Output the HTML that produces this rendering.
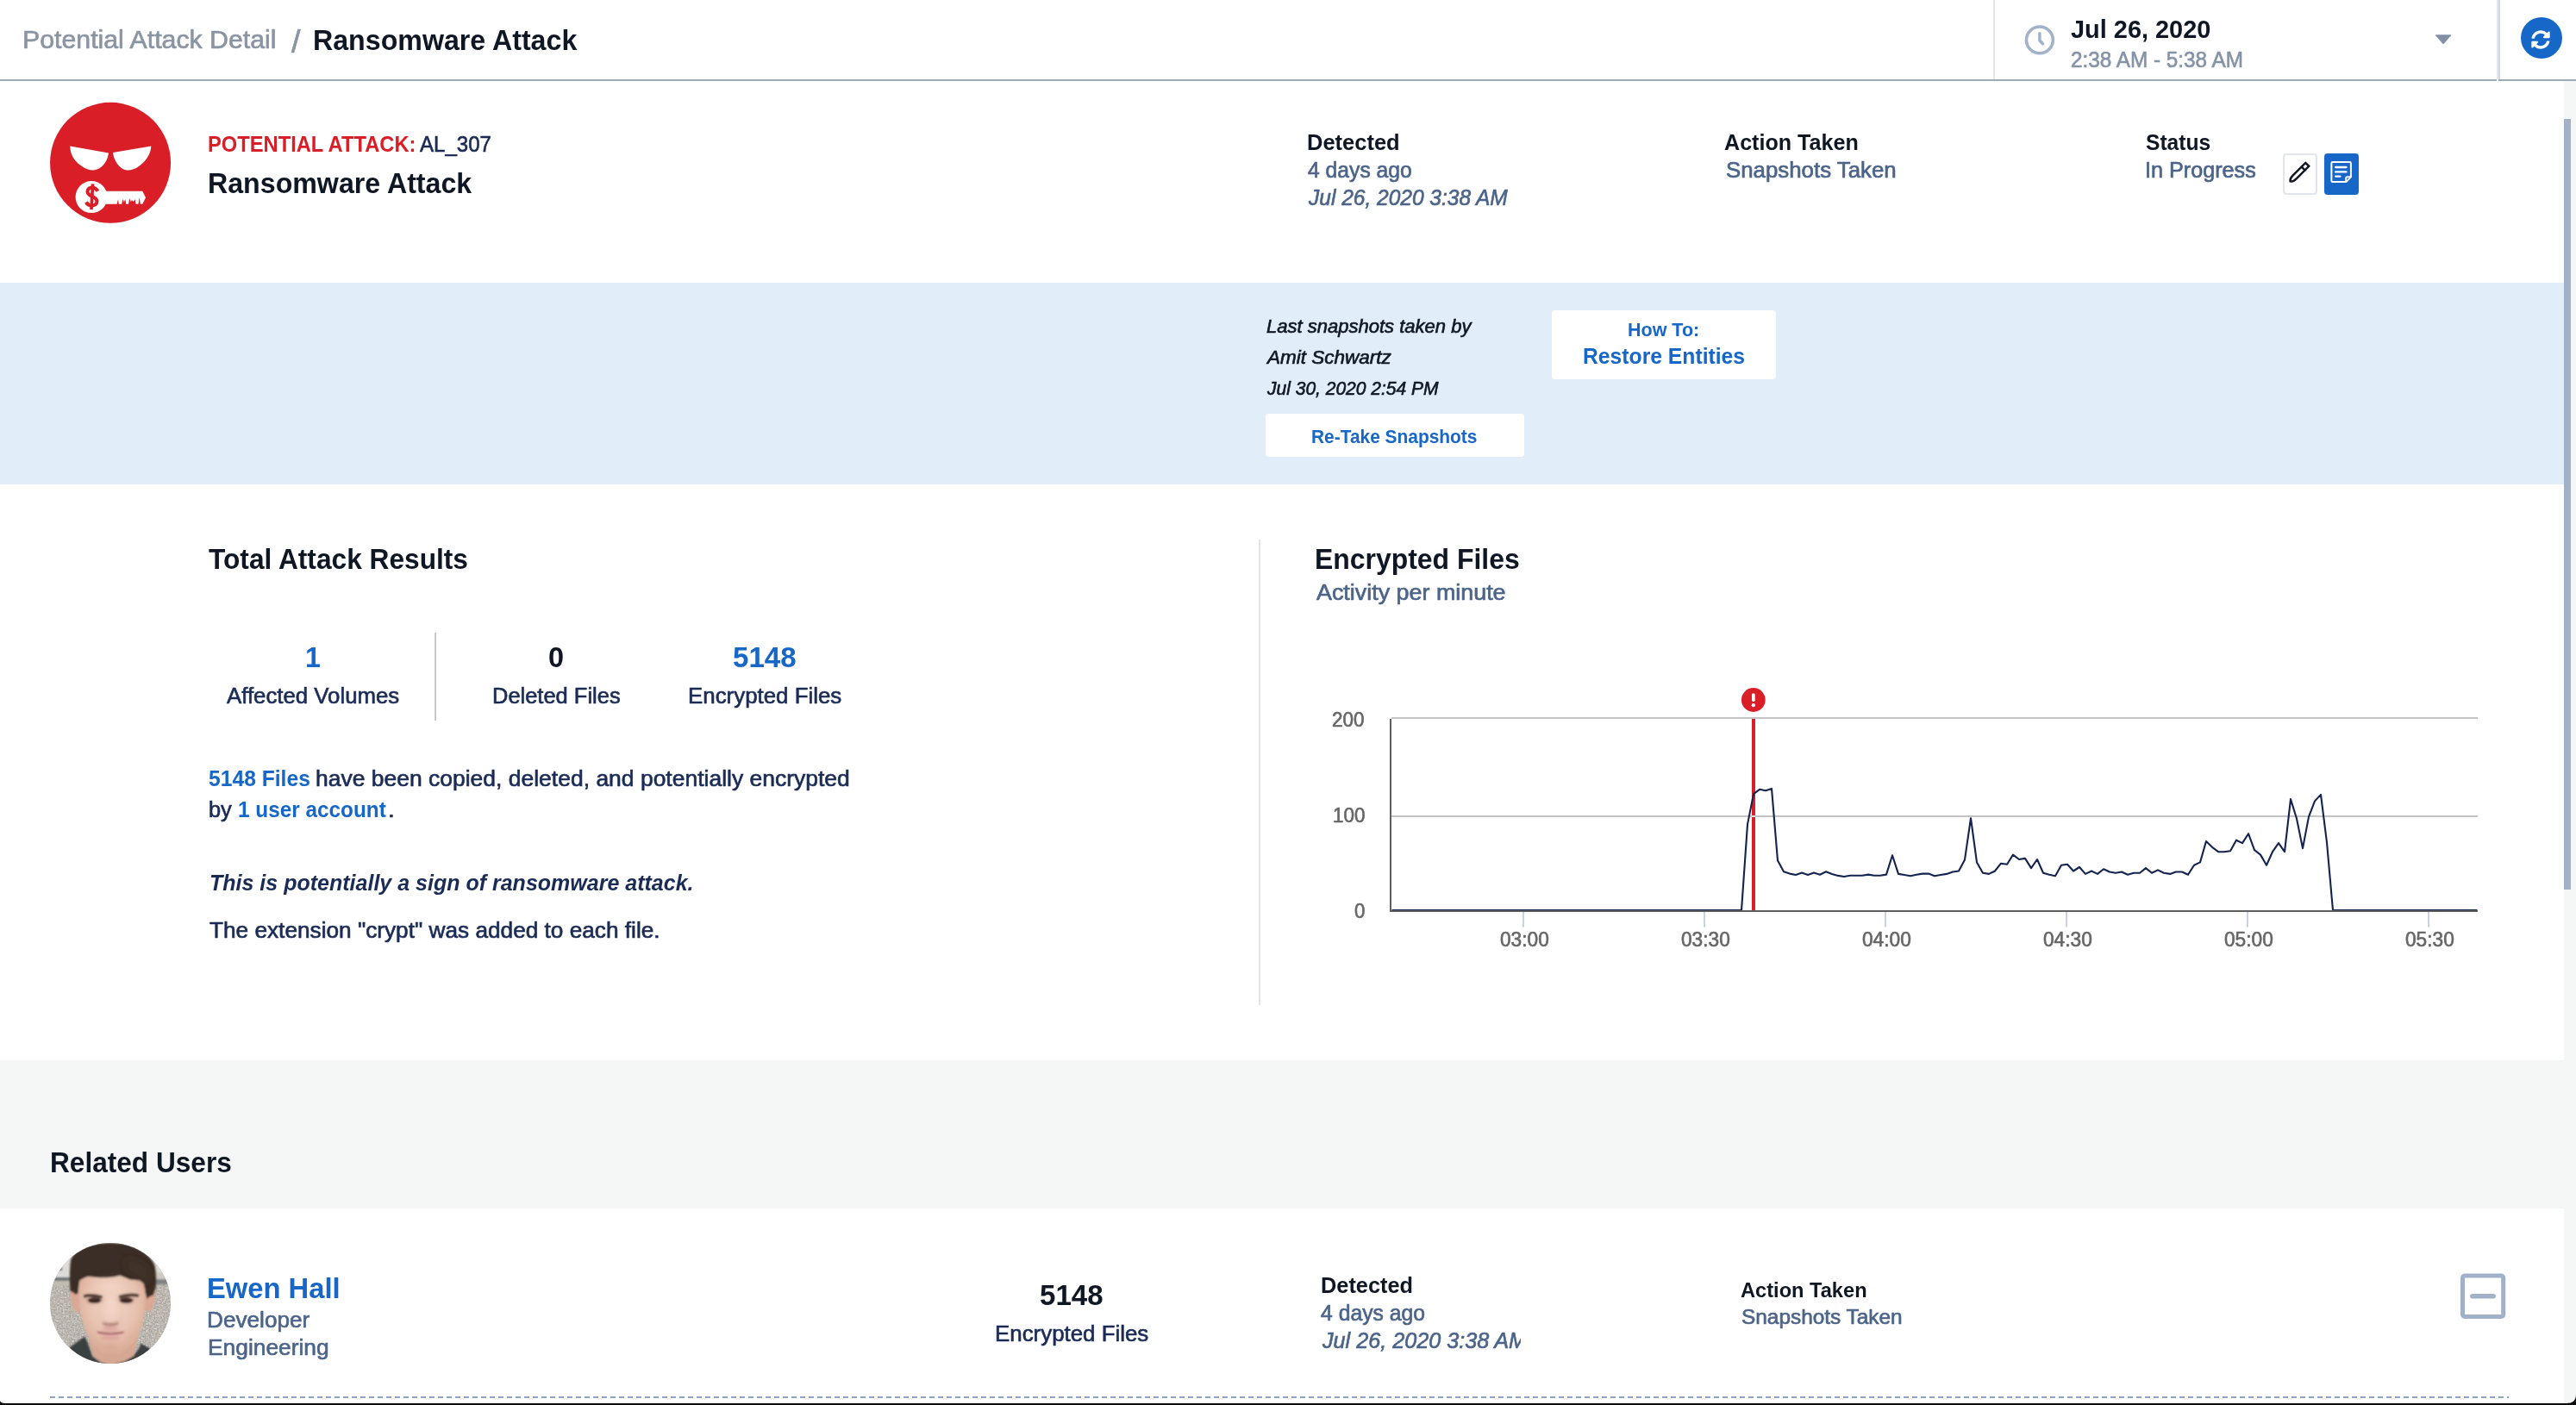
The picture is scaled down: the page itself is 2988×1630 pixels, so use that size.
<!DOCTYPE html>
<html lang="en">
<head>
<meta charset="utf-8">
<title>Potential Attack Detail / Ransomware Attack</title>
<style>
html,body{margin:0;padding:0;}
body{width:2988px;height:1630px;overflow:hidden;background:#ffffff;position:relative;font-family:"Liberation Sans",sans-serif;}
.abs{position:absolute;}
.t{position:absolute;height:100px;line-height:0;white-space:nowrap;transform-origin:0 0;font-family:"Liberation Sans",sans-serif;}
.t i{display:inline-block;width:0;height:100px;}
svg{position:absolute;overflow:visible;}
</style>
</head>
<body>

<!-- ===== top bar ===== -->
<div class="abs" style="left:0;top:92px;width:2988px;height:2px;background:#9fa9b7"></div>
<div class="abs" style="left:2312px;top:0;width:2px;height:92px;background:#e4e6eb"></div>
<div class="abs" style="left:2896px;top:0;width:2px;height:92px;background:#e5e6eb"></div>
<div class="abs" style="left:2898px;top:0;width:2px;height:92px;background:#d1d9e3"></div>
<div class="abs" style="left:2896px;top:92px;width:2px;height:2px;background:#f1f2f5"></div>

<!-- clock icon -->
<svg style="left:2340px;top:20px" width="52" height="52" viewBox="0 0 52 52">
  <circle cx="25.9" cy="26.4" r="15.4" fill="none" stroke="#a1b2ca" stroke-width="3.6"/>
  <path d="M25.9 18.7 V27 L29.5 30.8" fill="none" stroke="#a1b2ca" stroke-width="3.5" stroke-linecap="round" stroke-linejoin="round"/>
</svg>
<!-- dropdown caret -->
<svg style="left:2820px;top:36px" width="30" height="20" viewBox="0 0 30 20">
  <path d="M5.6 4.3 H22.6 Q23.7 4.3 23 5.2 L15 14.6 Q14.1 15.6 13.2 14.6 L5.2 5.2 Q4.5 4.3 5.6 4.3 Z" fill="#838fa4"/>
</svg>
<!-- refresh button -->
<div class="abs" style="left:2924px;top:20px;width:48px;height:48px;border-radius:50%;background:#1767c8"></div>
<svg style="left:2936px;top:34.5px" width="22" height="22" viewBox="0 0 512 512">
  <path fill="#ffffff" d="M370.72 133.28C339.458 104.008 298.888 87.962 255.848 88c-77.458.068-144.328 53.178-162.791 126.85-1.344 5.363-6.122 9.15-11.651 9.15H24.103c-7.498 0-13.194-6.807-11.807-14.176C33.933 94.924 134.813 8 256 8c66.448 0 126.791 26.136 171.315 68.685L463.03 40.97C478.149 25.851 504 36.559 504 57.941V192c0 13.255-10.745 24-24 24H345.941c-21.382 0-32.09-25.851-16.971-40.971l41.75-41.749zM32 296h134.059c21.382 0 32.09 25.851 16.971 40.971l-41.75 41.75c31.262 29.273 71.835 45.319 114.876 45.28 77.418-.07 144.315-53.144 162.787-126.849 1.344-5.363 6.122-9.15 11.651-9.15h57.304c7.498 0 13.194 6.807 11.807 14.176C478.067 417.076 377.187 504 256 504c-66.448 0-126.791-26.136-171.315-68.685L48.97 471.03C33.851 486.149 8 475.441 8 454.059V320c0-13.255 10.745-24 24-24z"/>
</svg>

<!-- ===== attack header ===== -->
<svg style="left:48px;top:108px" width="160" height="160" viewBox="48 108 160 160">
  <circle cx="128.05" cy="188.85" r="70" fill="#da1e28"/>
  <path fill="#ffffff" d="M81.3 169.5 L126 177.5 C125.2 182 124 185.3 123.2 186.6 C121 190.6 118.6 193.3 116.3 194.6 C113.8 196.4 111.2 197.4 108.4 197.4 C104 197.4 99.8 196 95.8 193.4 C92 190.9 89 188.3 86.7 185.4 C84.6 182.6 83 179.6 82.2 176.3 C81.6 174 81.3 171.8 81.3 169.5 Z"/>
  <path fill="#ffffff" d="M175.3 169.5 L130.9 176.9 C131.5 180.3 132.3 183.1 133.4 185.4 C134.9 188.6 136.8 191.3 139.1 193.4 C141.8 196 144.8 197.4 148.2 197.4 C152.2 197.4 156 196.2 159.6 194 C163.8 191.4 167.2 188.1 169.9 184.3 C172 181.3 173.5 178.3 174.4 175.2 C175 173.3 175.3 171.4 175.3 169.5 Z"/>
  <circle cx="106.1" cy="228.6" r="18.5" fill="#ffffff"/>
  <path fill="#ffffff" d="M118 221.7 H165.3 L169 229.3 L165.3 236.7 H162.8 L161.8 229 L160.4 236.7 H157.6 L156.6 231.2 L154.6 234 L153 232 L151.6 234.2 L150.2 230 L149 236.7 H146.2 L145.4 231 L143.8 234.6 L142.2 231 L141.2 236.7 H137.8 L137 231.2 L135.6 236.7 H118 Z"/>
  <g transform="rotate(3 106.5 228.4)">
    <path d="M113.1 221.4 C111 218.4 108.8 217.5 106.8 217.5 C103.4 217.5 101.2 219.6 101.2 222.3 C101.2 225.5 104 226.7 106.9 227.8 C110 229 112.7 230.3 112.7 233.6 C112.7 236.6 110.2 238.5 106.7 238.5 C104 238.5 101.8 237.4 100.2 235" fill="none" stroke="#da1e28" stroke-width="4.1"/>
    <rect x="104.9" y="213.3" width="3.7" height="29.8" fill="#da1e28"/>
  </g>
</svg>

<!-- status buttons -->
<div class="abs" style="left:2648px;top:178px;width:36px;height:44px;border:2px solid #e2e5ea;border-radius:4px;background:#fff"></div>
<div class="abs" style="left:2696px;top:178px;width:40px;height:48px;border-radius:4px;background:#1767c8"></div>
<svg style="left:2640px;top:170px" width="105" height="65" viewBox="2640 170 105 65">
  <g transform="translate(2655.7 211.4) rotate(-45)" fill="none" stroke="#0f1724" stroke-width="2.5" stroke-linejoin="round" stroke-linecap="round">
    <path d="M1.4 0 C2.2 -1.4 5.5 -2.75 8.5 -2.75 L29 -2.75 L29 2.75 L8.5 2.75 C5.5 2.75 2.2 1.4 1.4 0 Z" stroke-linejoin="miter"/>
    <path d="M22.6 -2.7 V2.7"/>
  </g>
  <g fill="none" stroke="#ffffff" stroke-width="2" stroke-linejoin="round" stroke-linecap="round">
    <path d="M2705.8 188.1 H2725.5 Q2726.9 188.1 2726.9 189.5 V205.4 L2721.3 211.1 H2705.8 Q2704.4 211.1 2704.4 209.7 V189.5 Q2704.4 188.1 2705.8 188.1 Z"/>
    <path d="M2726.9 205.3 H2722.8 Q2721.2 205.3 2721.2 206.9 V211"/>
  </g>
  <g stroke="#ffffff" stroke-width="2.4" stroke-linecap="round">
    <path d="M2709.2 194 H2721.4"/>
    <path d="M2709.2 199.4 H2721.4"/>
    <path d="M2709.2 204.6 H2714.4"/>
  </g>
</svg>

<!-- ===== blue banner ===== -->
<div class="abs" style="left:0;top:328px;width:2974px;height:234px;background:#e1edf9"></div>
<div class="abs" style="left:1468px;top:480px;width:300px;height:50px;border-radius:4px;background:#fff"></div>
<div class="abs" style="left:1800px;top:360px;width:260px;height:80px;border-radius:4px;background:#fff"></div>

<!-- ===== attack results / chart ===== -->
<div class="abs" style="left:504px;top:734px;width:2px;height:102px;background:#c8c8c8"></div>
<div class="abs" style="left:1460px;top:626px;width:2px;height:540px;background:#e3e4e9"></div>

<svg style="left:1500px;top:780px" width="1420" height="340" viewBox="1500 780 1420 340">
  <rect x="1614" y="832" width="1260" height="2" fill="#c4c4c4"/>
  <rect x="1614" y="946" width="1260" height="2" fill="#c4c4c4"/>
  <rect x="1612" y="834" width="2" height="224" fill="#5e5e5e"/>
  <rect x="1612" y="1056" width="1262" height="2" fill="#5e5e5e"/>
  <rect x="1766" y="1058" width="2" height="17.5" fill="#c7d2e8"/><rect x="1976" y="1058" width="2" height="17.5" fill="#c7d2e8"/><rect x="2186" y="1058" width="2" height="17.5" fill="#c7d2e8"/><rect x="2396" y="1058" width="2" height="17.5" fill="#c7d2e8"/><rect x="2606" y="1058" width="2" height="17.5" fill="#c7d2e8"/><rect x="2816" y="1058" width="2" height="17.5" fill="#c7d2e8"/>
  <rect x="2032" y="834" width="4" height="222" fill="#da1e28"/>
  <rect x="2032" y="946" width="4" height="2" fill="#d3e2e2"/>
  <clipPath id="plotclip"><rect x="1614" y="830" width="1260" height="226"/></clipPath>
  <path d="M1614.5 1056.0 L2020.0 1056.0 L2027.0 956.4 L2034.0 921.2 L2041.0 915.8 L2048.0 917.2 L2055.0 914.9 L2062.0 998.3 L2069.0 1011.2 L2076.0 1013.6 L2083.0 1015.0 L2090.0 1012.5 L2097.0 1015.0 L2104.0 1012.5 L2111.0 1014.8 L2118.0 1011.2 L2125.0 1013.9 L2132.0 1015.9 L2139.0 1017.0 L2146.0 1015.7 L2153.0 1015.7 L2160.0 1015.7 L2167.0 1014.6 L2174.0 1015.7 L2181.0 1015.7 L2188.0 1014.6 L2195.0 992.3 L2202.0 1013.9 L2209.0 1015.0 L2216.0 1016.2 L2223.0 1014.8 L2230.0 1013.6 L2237.0 1013.6 L2244.0 1016.2 L2251.0 1015.0 L2258.0 1013.9 L2265.0 1011.5 L2272.0 1010.5 L2279.0 997.4 L2286.0 949.2 L2293.0 1000.4 L2300.0 1012.8 L2307.0 1013.9 L2314.0 1010.5 L2321.0 1001.7 L2328.0 1002.8 L2335.0 991.6 L2342.0 997.0 L2349.0 995.9 L2356.0 1007.1 L2363.0 997.0 L2370.0 1012.8 L2377.0 1014.8 L2384.0 1016.2 L2391.0 1003.7 L2398.0 1002.8 L2405.0 1010.5 L2412.0 1006.0 L2419.0 1013.9 L2426.0 1010.5 L2433.0 1013.9 L2440.0 1008.2 L2447.0 1011.5 L2454.0 1012.8 L2461.0 1011.5 L2468.0 1014.8 L2475.0 1012.8 L2482.0 1012.8 L2489.0 1007.1 L2496.0 1012.8 L2503.0 1009.4 L2510.0 1012.8 L2517.0 1013.9 L2524.0 1011.5 L2531.0 1011.5 L2538.0 1014.8 L2545.0 1003.7 L2552.0 1000.4 L2559.0 976.0 L2566.0 982.8 L2573.0 988.2 L2580.0 988.2 L2587.0 987.2 L2594.0 974.7 L2601.0 978.1 L2608.0 967.2 L2615.0 986.2 L2622.0 991.6 L2629.0 1003.7 L2636.0 988.2 L2643.0 978.1 L2650.0 988.2 L2657.0 927.1 L2664.0 949.7 L2671.0 984.1 L2678.0 947.6 L2685.0 929.4 L2692.0 921.9 L2699.0 977.4 L2706.0 1056.0 L2873.5 1056.0" fill="none" stroke="#14244f" stroke-width="2.1" stroke-linejoin="round" clip-path="url(#plotclip)"/>
  <circle cx="2033.8" cy="812" r="13.9" fill="#da1e28"/>
  <rect x="2032" y="804.4" width="3.7" height="9.6" rx="1.4" fill="#fff"/>
  <circle cx="2033.85" cy="818.2" r="2.1" fill="#fff"/>
</svg>

<!-- ===== related users ===== -->
<div class="abs" style="left:0;top:1230px;width:2974px;height:172px;background:#f5f7f7"></div>

<svg style="left:48px;top:1432px" width="160" height="160" viewBox="0 0 160 160">
  <defs>
    <clipPath id="avc"><circle cx="80" cy="80" r="70"/></clipPath>
    <filter id="avb" x="-10%" y="-10%" width="120%" height="120%"><feGaussianBlur stdDeviation="1.1"/></filter>
    <filter id="avb2" x="-30%" y="-30%" width="160%" height="160%"><feGaussianBlur stdDeviation="2.2"/></filter>
    <filter id="avb3" x="-30%" y="-30%" width="160%" height="160%"><feGaussianBlur stdDeviation="4"/></filter>
    <filter id="avn" x="0" y="0" width="100%" height="100%"><feTurbulence type="fractalNoise" baseFrequency="0.55" numOctaves="2" seed="7" result="n"/><feColorMatrix in="n" type="matrix" values="0 0 0 0 0.35  0 0 0 0 0.33  0 0 0 0 0.30  0.7 0.7 0.7 0 -0.78"/></filter>
    <filter id="avn2" x="0" y="0" width="100%" height="100%"><feTurbulence type="fractalNoise" baseFrequency="0.55" numOctaves="2" seed="3" result="n"/><feColorMatrix in="n" type="matrix" values="0 0 0 0 0.95  0 0 0 0 0.94  0 0 0 0 0.92  0.7 0.7 0.7 0 -0.86"/></filter>
    <radialGradient id="avskin" cx="50%" cy="38%" r="62%">
      <stop offset="0" stop-color="#f1d3c4"/><stop offset="0.6" stop-color="#e7c2b0"/><stop offset="1" stop-color="#d7a892"/>
    </radialGradient>
  </defs>
  <g clip-path="url(#avc)">
    <rect x="0" y="0" width="160" height="160" fill="#b1aba2"/>
    <rect x="0" y="51" width="160" height="109" filter="url(#avn)"/>
    <rect x="0" y="51" width="160" height="109" filter="url(#avn2)"/>
    <rect x="0" y="0" width="160" height="51" fill="#dedcd8"/>
    <g filter="url(#avb)">
      <rect x="0" y="50" width="36" height="4" fill="#6f7476"/>
      <rect x="128" y="52" width="32" height="6" fill="#7f8385"/>
      <rect x="0" y="54" width="36" height="5" fill="#c2bdb3"/>
      <rect x="128" y="44" width="32" height="8" fill="#cfcbc4"/>
      <circle cx="22" cy="40" r="2" fill="#55585a"/>
    </g>
    <g filter="url(#avb)">
      <!-- shirt -->
      <path d="M14 160 L33 131 L50 118.5 L53.5 125.3 L59.2 141.2 L68.3 148 L80 152 L96.8 147 L107 141 L113.9 131 L115 126.4 L125.3 132 L146 160 Z" fill="#3b3f41"/>
      <!-- neck -->
      <path d="M55 120 L60 141 L68.3 148 L80 152 L96.8 147 L107 141 L112 120 Z" fill="#d6a792"/>
      <!-- ears -->
      <path d="M43.5 64 Q36 60 34 68 Q33.5 80 38 88 Q41 92 44.5 90 Z" fill="#dba893"/>
      <path d="M120.5 62 Q128 57 132 64 Q134 76 128 86 Q125 91 120 89 Z" fill="#dba893"/>
      <!-- face -->
      <path d="M43.3 60 L43.3 68 Q43.8 80 45.6 91 Q47 100 50 108 Q53 116 57 123 Q61 129 66 134.4 Q71 139 77.4 140.7 Q83 141.2 88.8 140 Q95 137.5 100 133 Q105 128.5 109.3 123 Q113 116 116 108 Q118.5 100 119.6 91 Q120.7 80 120.7 70 L120 48 L80 40 L44 48 Z" fill="url(#avskin)"/>
      <!-- hair -->
      <path d="M33.5 66 Q32 46 34 30 Q38 20 45 18 Q52 13 60 12 Q70 9.5 80 10 Q90 9.5 100 12 Q110 15 118 20 Q125 25 128 30 Q132 34 132.7 44 Q133.5 54 132.7 61.5 L130 70.6 L126 72 L122.4 75 Q121.5 70 120.7 68.3 Q120 62 118.5 57 Q116 54.5 113.9 53.5 Q108 53 102.5 52.4 Q97 50 91 47.8 Q85 49.5 79.7 50 Q72 50.5 63.8 50 Q58 49 53.5 49 Q48 51 44.4 53.5 Q43 60 42.7 68 L40 70 L36 67 Z" fill="#3b2d25"/>
      <path d="M98 30 Q112 30 122 42 Q124 50 121 56 Q114 46 102 42 Z" fill="#4a392d" opacity=".55" filter="url(#avb3)"/>
      <ellipse cx="61.5" cy="76" rx="11" ry="4.6" fill="#cfa390" opacity=".7" filter="url(#avb2)"/>
      <ellipse cx="98.5" cy="76" rx="11" ry="4.6" fill="#cfa390" opacity=".7" filter="url(#avb2)"/>
      <!-- brows -->
      <path d="M48.6 70.2 Q58 67.4 71 71.2 L70.4 74.6 Q58 71.6 49.4 73.8 Z" fill="#4e382d"/>
      <path d="M89.6 71 Q102 67.2 113.2 69.4 L112.6 73 Q102 71.2 90.2 74.4 Z" fill="#4e382d"/>
      <!-- eyes -->
      <ellipse cx="61.5" cy="76.6" rx="8" ry="3.3" fill="#3a2c28"/>
      <ellipse cx="98.5" cy="76.6" rx="8" ry="3.3" fill="#3a2c28"/>
    </g>
    <g filter="url(#avb2)">
      <path d="M70.6 101 Q80 106.5 90 101 L88 105 Q80 108 72.5 105 Z" fill="#b98576"/>
      <ellipse cx="80" cy="119.5" rx="11.5" ry="2.8" fill="#dca09c"/>
      <ellipse cx="80" cy="110.5" rx="10" ry="1.8" fill="#d79a96"/>
      <ellipse cx="80" cy="131" rx="9" ry="2.5" fill="#d3a590" opacity=".8"/>
    </g>
    <g filter="url(#avb)">
      <path d="M63.8 112.6 Q80 116.2 96.8 112.6 L94 115 Q80 117.6 66.5 115 Z" fill="#a05f66"/>
      <path d="M71 102.2 Q75 104.6 80 103.4 Q85 104.6 89.6 102.2 L88 104.6 Q80 106.6 72.5 104.6 Z" fill="#a8766a"/>
    </g>
    <g filter="url(#avb3)">
      <ellipse cx="80" cy="88" rx="5" ry="12" fill="#f4dacd" opacity=".7"/>
      <ellipse cx="80" cy="60" rx="16" ry="6" fill="#f3d7c9" opacity=".6"/>
    </g>
  </g>
</svg>

<!-- collapse icon -->
<svg style="left:2850px;top:1474px" width="60" height="60" viewBox="2850 1474 60 60">
  <rect x="2856.5" y="1480.1" width="47.2" height="47.4" rx="2.5" fill="none" stroke="#a0b1c9" stroke-width="5"/>
  <path d="M2867.8 1503.8 H2892.2" stroke="#a0b1c9" stroke-width="5.4" stroke-linecap="round"/>
</svg>

<!-- dashed row separator -->
<svg style="left:0;top:1618px" width="2988" height="6" viewBox="0 1618 2988 6">
  <path d="M58 1621 H2910" stroke="#8fa4c2" stroke-width="2" stroke-dasharray="6 4" fill="none"/>
</svg>

<!-- scrollbar -->
<div class="abs" style="left:2974px;top:94px;width:14px;height:1536px;background:#f5f7f7"></div>
<div class="abs" style="left:2974px;top:138px;width:8px;height:894px;background:#a0b1c9"></div>

<!-- ===== texts ===== -->
<div class="t" style="left:26.18px;top:-44px;font-size:30.14px;color:#8a94a3;transform:scaleX(1.0051);-webkit-text-stroke:0.65px;"><i></i>Potential Attack Detail</div>
<div class="t" style="left:337.70px;top:-39px;font-size:36.57px;color:#8a94a3;transform:scaleX(1.0312);-webkit-text-stroke:0.65px;"><i></i>/</div>
<div class="t" style="left:363.37px;top:-42px;font-size:33.94px;color:#0f1724;transform:scaleX(0.9482);font-weight:700;"><i></i>Ransomware Attack</div>
<div class="t" style="left:2402.10px;top:-56px;font-size:30.14px;color:#0f1724;transform:scaleX(0.9596);font-weight:700;"><i></i>Jul 26, 2020</div>
<div class="t" style="left:2401.68px;top:-22px;font-size:26.43px;color:#8593a8;transform:scaleX(0.9195);-webkit-text-stroke:0.65px;"><i></i>2:38 AM - 5:38 AM</div>
<div class="t" style="left:240.58px;top:76px;font-size:26.43px;color:#da1e28;transform:scaleX(0.8972);font-weight:700;"><i></i>POTENTIAL ATTACK:</div>
<div class="t" style="left:487.47px;top:76px;font-size:26.43px;color:#1a2b55;transform:scaleX(0.9110);-webkit-text-stroke:0.65px;"><i></i>AL_307</div>
<div class="t" style="left:240.57px;top:124px;font-size:33.94px;color:#0f1724;transform:scaleX(0.9480);font-weight:700;"><i></i>Ransomware Attack</div>
<div class="t" style="left:1516.06px;top:74px;font-size:26.43px;color:#0f1724;transform:scaleX(0.9650);font-weight:700;"><i></i>Detected</div>
<div class="t" style="left:1516.98px;top:106px;font-size:26.43px;color:#4b6489;transform:scaleX(0.9344);-webkit-text-stroke:0.65px;"><i></i>4 days ago</div>
<div class="t" style="left:1518.28px;top:138px;font-size:26.43px;color:#4b6489;transform:scaleX(0.9276);-webkit-text-stroke:0.65px;font-style:italic;"><i></i>Jul 26, 2020 3:38 AM</div>
<div class="t" style="left:1999.96px;top:74px;font-size:26.43px;color:#0f1724;transform:scaleX(0.9503);font-weight:700;"><i></i>Action Taken</div>
<div class="t" style="left:2001.93px;top:106px;font-size:26.43px;color:#4b6489;transform:scaleX(0.9778);-webkit-text-stroke:0.65px;"><i></i>Snapshots Taken</div>
<div class="t" style="left:2488.58px;top:74px;font-size:26.43px;color:#0f1724;transform:scaleX(0.9316);font-weight:700;"><i></i>Status</div>
<div class="t" style="left:2487.99px;top:106px;font-size:26.43px;color:#4b6489;transform:scaleX(0.9532);-webkit-text-stroke:0.65px;"><i></i>In Progress</div>
<div class="t" style="left:1469.18px;top:286px;font-size:22.63px;color:#0f1724;transform:scaleX(0.9733);-webkit-text-stroke:0.65px;font-style:italic;"><i></i>Last snapshots taken by</div>
<div class="t" style="left:1469.94px;top:322px;font-size:22.63px;color:#0f1724;transform:scaleX(0.9948);-webkit-text-stroke:0.65px;font-style:italic;"><i></i>Amit Schwartz</div>
<div class="t" style="left:1469.56px;top:358px;font-size:22.63px;color:#0f1724;transform:scaleX(0.9287);-webkit-text-stroke:0.65px;font-style:italic;"><i></i>Jul 30, 2020 2:54 PM</div>
<div class="t" style="left:1520.96px;top:414px;font-size:22.63px;color:#1767c8;transform:scaleX(0.9237);font-weight:700;"><i></i>Re-Take Snapshots</div>
<div class="t" style="left:1888.12px;top:290px;font-size:22.63px;color:#1767c8;transform:scaleX(0.9504);font-weight:700;"><i></i>How To:</div>
<div class="t" style="left:1836.20px;top:322px;font-size:26.43px;color:#1767c8;transform:scaleX(0.9350);font-weight:700;"><i></i>Restore Entities</div>
<div class="t" style="left:242.48px;top:560px;font-size:33.94px;color:#0f1724;transform:scaleX(0.9337);font-weight:700;"><i></i>Total Attack Results</div>
<div class="t" style="left:353.50px;top:674px;font-size:33.94px;color:#1767c8;transform:scaleX(0.9472);font-weight:700;"><i></i>1</div>
<div class="t" style="left:262.68px;top:716px;font-size:26.43px;color:#1a2b55;transform:scaleX(0.9761);-webkit-text-stroke:0.65px;"><i></i>Affected Volumes</div>
<div class="t" style="left:635.91px;top:674px;font-size:33.94px;color:#0f1724;transform:scaleX(0.9585);font-weight:700;"><i></i>0</div>
<div class="t" style="left:571.45px;top:716px;font-size:26.43px;color:#1a2b55;transform:scaleX(0.9638);-webkit-text-stroke:0.65px;"><i></i>Deleted Files</div>
<div class="t" style="left:849.97px;top:674px;font-size:33.94px;color:#1767c8;transform:scaleX(0.9743);font-weight:700;"><i></i>5148</div>
<div class="t" style="left:797.87px;top:716px;font-size:26.43px;color:#1a2b55;transform:scaleX(0.9791);-webkit-text-stroke:0.65px;"><i></i>Encrypted Files</div>
<div class="t" style="left:242.35px;top:812px;font-size:26.43px;color:#1767c8;transform:scaleX(0.9329);font-weight:700;"><i></i>5148 Files</div>
<div class="t" style="left:366.45px;top:812px;font-size:26.43px;color:#1a2b55;transform:scaleX(1.0022);-webkit-text-stroke:0.65px;"><i></i>have been copied, deleted, and potentially encrypted</div>
<div class="t" style="left:241.87px;top:848px;font-size:26.43px;color:#1a2b55;transform:scaleX(0.9610);-webkit-text-stroke:0.65px;"><i></i>by</div>
<div class="t" style="left:275.93px;top:848px;font-size:26.43px;color:#1767c8;transform:scaleX(0.9213);font-weight:700;"><i></i>1 user account</div>
<div class="t" style="left:449.72px;top:848px;font-size:26.43px;color:#1a2b55;transform:scaleX(1.0688);-webkit-text-stroke:0.65px;"><i></i>.</div>
<div class="t" style="left:243.31px;top:933px;font-size:26.43px;color:#1a2b55;transform:scaleX(0.9466);font-weight:700;font-style:italic;"><i></i>This is potentially a sign of ransomware attack.</div>
<div class="t" style="left:242.99px;top:988px;font-size:26.43px;color:#1a2b55;transform:scaleX(0.9917);-webkit-text-stroke:0.65px;"><i></i>The extension &quot;crypt&quot; was added to each file.</div>
<div class="t" style="left:1525.31px;top:560px;font-size:33.94px;color:#0f1724;transform:scaleX(0.9410);font-weight:700;"><i></i>Encrypted Files</div>
<div class="t" style="left:1526.69px;top:596px;font-size:26.43px;color:#4b6489;transform:scaleX(1.0172);-webkit-text-stroke:0.65px;"><i></i>Activity per minute</div>
<div class="t" style="left:1545.12px;top:743px;font-size:23.43px;color:#666666;transform:scaleX(0.9594);-webkit-text-stroke:0.65px;"><i></i>200</div>
<div class="t" style="left:1545.54px;top:854px;font-size:23.43px;color:#666666;transform:scaleX(0.9588);-webkit-text-stroke:0.65px;"><i></i>100</div>
<div class="t" style="left:1571.00px;top:965px;font-size:23.43px;color:#666666;transform:scaleX(0.9495);-webkit-text-stroke:0.65px;"><i></i>0</div>
<div class="t" style="left:1739.76px;top:998px;font-size:23.43px;color:#666666;transform:scaleX(0.9684);-webkit-text-stroke:0.65px;"><i></i>03:00</div>
<div class="t" style="left:1949.76px;top:998px;font-size:23.43px;color:#666666;transform:scaleX(0.9684);-webkit-text-stroke:0.65px;"><i></i>03:30</div>
<div class="t" style="left:2159.76px;top:998px;font-size:23.43px;color:#666666;transform:scaleX(0.9684);-webkit-text-stroke:0.65px;"><i></i>04:00</div>
<div class="t" style="left:2369.76px;top:998px;font-size:23.43px;color:#666666;transform:scaleX(0.9684);-webkit-text-stroke:0.65px;"><i></i>04:30</div>
<div class="t" style="left:2579.76px;top:998px;font-size:23.43px;color:#666666;transform:scaleX(0.9684);-webkit-text-stroke:0.65px;"><i></i>05:00</div>
<div class="t" style="left:2789.76px;top:998px;font-size:23.43px;color:#666666;transform:scaleX(0.9684);-webkit-text-stroke:0.65px;"><i></i>05:30</div>
<div class="t" style="left:57.85px;top:1260px;font-size:33.94px;color:#0f1724;transform:scaleX(0.9316);font-weight:700;"><i></i>Related Users</div>
<div class="t" style="left:240.47px;top:1406px;font-size:33.94px;color:#1767c8;transform:scaleX(0.9648);font-weight:700;"><i></i>Ewen Hall</div>
<div class="t" style="left:240.32px;top:1440px;font-size:26.43px;color:#4b6489;transform:scaleX(0.9906);-webkit-text-stroke:0.65px;"><i></i>Developer</div>
<div class="t" style="left:240.50px;top:1472px;font-size:26.43px;color:#4b6489;transform:scaleX(0.9973);-webkit-text-stroke:0.65px;"><i></i>Engineering</div>
<div class="t" style="left:1206.22px;top:1414px;font-size:33.94px;color:#0f1724;transform:scaleX(0.9743);font-weight:700;"><i></i>5148</div>
<div class="t" style="left:1154.37px;top:1456px;font-size:26.43px;color:#1a2b55;transform:scaleX(0.9791);-webkit-text-stroke:0.65px;"><i></i>Encrypted Files</div>
<div class="t" style="left:1532.09px;top:1400px;font-size:26.43px;color:#0f1724;transform:scaleX(0.9593);font-weight:700;"><i></i>Detected</div>
<div class="t" style="left:1532.47px;top:1432px;font-size:26.43px;color:#4b6489;transform:scaleX(0.9360);-webkit-text-stroke:0.65px;"><i></i>4 days ago</div>
<div style="position:absolute;left:0;top:0;width:1764.2px;height:1630px;overflow:hidden"><div class="t" style="left:1534.07px;top:1464px;font-size:26.43px;color:#4b6489;transform:scaleX(0.9531);-webkit-text-stroke:0.65px;font-style:italic;"><i></i>Jul 26, 2020 3:38 AM</div></div>
<div class="t" style="left:2019.25px;top:1405px;font-size:24.71px;color:#0f1724;transform:scaleX(0.9563);font-weight:700;"><i></i>Action Taken</div>
<div class="t" style="left:2019.93px;top:1436px;font-size:24.71px;color:#4b6489;transform:scaleX(0.9872);-webkit-text-stroke:0.65px;"><i></i>Snapshots Taken</div>

<!-- window bottom edge -->
<svg style="left:0;top:1610px" width="2988" height="20" viewBox="0 1610 2988 20">
  <path d="M0 1630 V1625 Q0.8 1628 6 1628 H2977 Q2988 1628 2988 1618 V1630 Z" fill="#0c0c0c"/>
</svg>

</body>
</html>
